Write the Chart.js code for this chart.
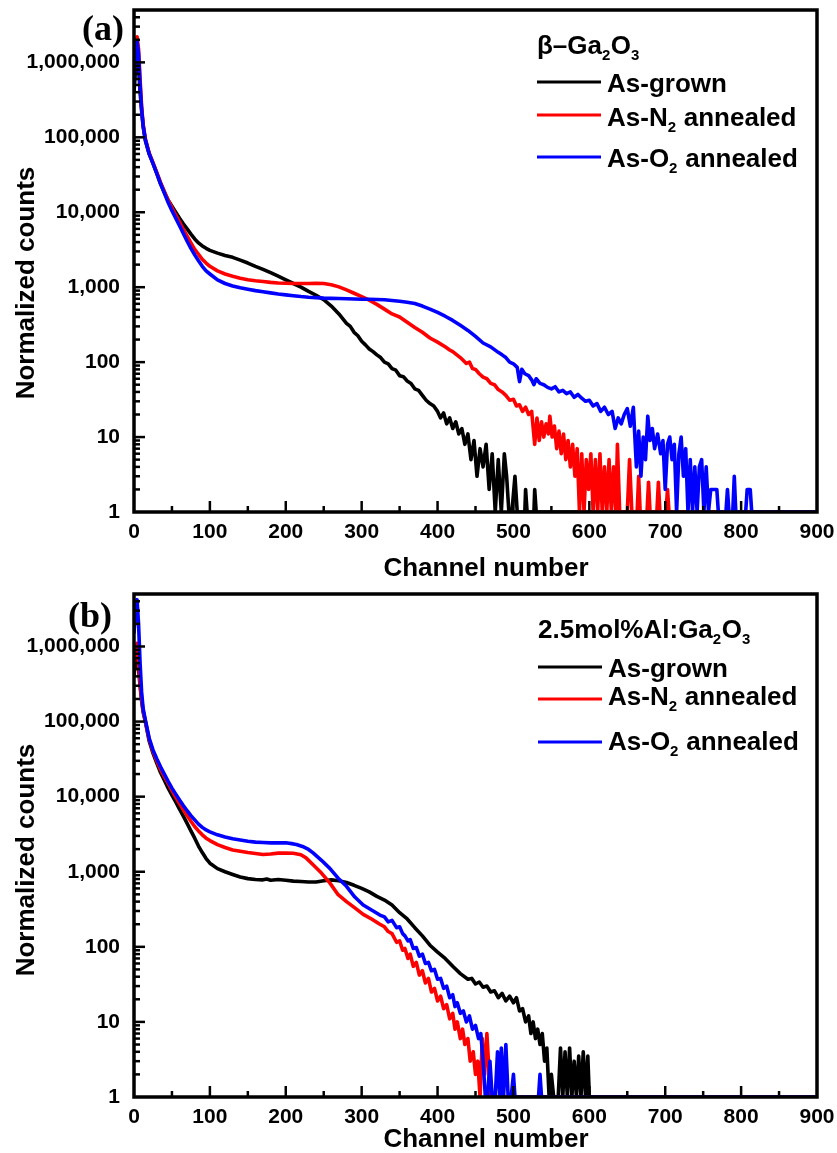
<!DOCTYPE html>
<html><head><meta charset="utf-8">
<script src="https://cdn.jsdelivr.net/npm/chart.js@4.4.1/dist/chart.umd.min.js"></script>
<style>
html,body{margin:0;padding:0;background:#fff;overflow:hidden;width:837px;height:1153px;position:relative;}
canvas{position:absolute;left:0;}
#ca{top:0;} #cb{top:584px;}
</style></head><body>
<canvas id="ca" width="837" height="590"></canvas>
<canvas id="cb" width="837" height="580"></canvas>
<script>
// ---------- data: [channel, normalized counts] ----------
const xTickValues = [0,100,200,300,400,500,600,700,800,900];
const xMinorValues = [50,150,250,350,450,550,650,750,850];
const yTickValues = [1,10,100,1000,10000,100000,1000000];
const seriesLabels = ['As-grown','As-N2 annealed','As-O2 annealed'];
const seriesColors = ['#000000','#ff0000','#0000ff'];

const aGrown = [[0,4e5],[2,8e5],[4,1.2e6],[6,9e5],[8,4e5],[10,2.3e5],[12,1.4e5],[15,9e4],[20,6e4],[25,4.5e4],[30,3.3e4],[35,2.4e4],[40,1.85e4],[45,1.45e4],[50,1.2e4],[55,1e4],[60,8300],[65,7000],[70,6000],[75,5100],[80,4400],[85,3900],[90,3550],[95,3300],[100,3100],[110,2850],[120,2650],[130,2500],[140,2300],[150,2100],[160,1900],[170,1730],[180,1560],[190,1400],[200,1250],[210,1120],[220,1000],[230,880],[240,780],[250,680],[260,560],[270,440],[280,330],[285,300],[290,250],[295,225],[300,190],[305,170],[310,150],[315,138],[320,125],[325,115],[330,100],[335,95],[340,82],[345,78],[350,66],[355,64],[360,56],[365,52],[370,44],[375,42],[380,36],[385,31],[390,28],[395,26],[400,22],[404,18],[408,21],[412,15],[416,18],[420,13],[424,16],[428,11],[432,13],[436,8],[440,11],[444,5],[448,9],[452,3],[456,7],[460,4],[464,8],[468,2],[472,6],[476,1],[480,5],[484,1],[488,6],[491,3],[494,1],[498,1],[502,3],[505,1],[515,1],[516,2],[518,1],[527,1],[528,2],[530,1],[900,1]];
const aN2 = [[0,6e5],[2,1.5e6],[4,2.2e6],[6,1.5e6],[8,6e5],[10,2.6e5],[12,1.5e5],[15,9.5e4],[20,6.2e4],[25,4.6e4],[30,3.4e4],[35,2.5e4],[40,1.9e4],[45,1.45e4],[50,1.15e4],[55,9200],[60,7400],[65,5900],[70,4800],[75,3900],[80,3200],[85,2750],[90,2350],[95,2100],[100,1900],[110,1650],[120,1500],[130,1400],[140,1320],[150,1260],[160,1220],[170,1190],[180,1160],[190,1140],[200,1130],[210,1120],[220,1120],[230,1120],[240,1130],[250,1120],[260,1080],[270,1010],[280,920],[290,830],[300,750],[310,670],[320,590],[330,510],[340,440],[350,400],[360,340],[370,290],[380,250],[390,210],[400,185],[410,160],[416,145],[420,138],[430,115],[438,96],[442,100],[446,82],[450,80],[455,70],[460,63],[465,60],[470,52],[475,50],[480,43],[485,40],[490,36],[495,31],[500,32],[504,26],[508,27],[512,22],[516,25],[520,20],[524,22],[528,8],[531,18],[534,9],[537,16],[540,10],[543,15],[546,11],[548,19],[551,10],[554,14],[557,7],[560,12],[563,6],[566,11],[569,5],[572,9],[575,4],[578,8],[581,3],[584,7],[587,1],[590,6],[593,1],[596,5],[599,2],[602,6],[605,1],[608,5],[611,1],[614,6],[617,1],[620,4],[623,1],[626,5],[629,1],[632,4],[635,1],[637,8],[640,1],[650,1],[653,5],[656,1],[663,1],[665,3],[667,1],[676,1],[678,2.5],[680,1],[689,1],[691,2.5],[693,1],[701,1],[703,2],[705,1],[900,1]];
const aO2 = [[0,5e5],[2,1.2e6],[4,1.9e6],[6,1.3e6],[8,5e5],[10,2.4e5],[12,1.45e5],[15,9.3e4],[20,6e4],[25,4.5e4],[30,3.3e4],[35,2.4e4],[40,1.8e4],[45,1.35e4],[50,1.05e4],[55,8300],[60,6600],[65,5200],[70,4100],[75,3300],[80,2700],[85,2250],[90,1900],[95,1650],[100,1500],[110,1250],[120,1120],[130,1040],[140,980],[150,940],[160,900],[170,870],[180,840],[190,810],[200,790],[210,770],[220,750],[230,735],[240,725],[250,715],[260,710],[270,705],[280,700],[290,695],[300,690],[310,690],[320,685],[330,680],[340,665],[350,650],[360,630],[370,605],[380,560],[390,510],[400,460],[410,410],[420,360],[430,310],[440,265],[450,220],[460,180],[470,160],[480,135],[485,125],[490,115],[495,100],[500,95],[505,85],[508,55],[511,80],[515,70],[520,66],[524,58],[527,50],[530,60],[535,52],[540,50],[545,46],[550,44],[555,47],[560,40],[565,42],[570,38],[575,40],[580,34],[585,37],[590,33],[595,30],[600,31],[605,26],[610,28],[615,22],[620,25],[625,20],[630,22],[634,13],[638,18],[642,15],[646,20],[650,24],[654,14],[658,25],[662,4],[665,12],[668,3],[671,10],[674,5],[677,19],[680,9],[683,13],[686,7],[690,11],[694,6],[697,9],[700,2],[703,8],[706,10],[709,5],[712,8],[715,1],[718,6],[721,10],[724,3],[727,7],[730,1],[733,5],[736,1],[739,4],[742,1],[745,4],[748,5],[751,1],[754,4],[757,1],[760,2],[764,2],[768,2],[770,1],[780,1],[782,2],[784,1],[789,1],[791,3],[793,1],[806,1],[808,2],[812,2],[814,1],[900,1]];

const bGrown = [[0,4e5],[2,7e5],[4,8e5],[6,5e5],[8,3e5],[10,1.9e5],[12,1.35e5],[15,1e5],[20,5.5e4],[25,3.8e4],[30,2.8e4],[35,2.1e4],[40,1.65e4],[45,1.3e4],[50,1.05e4],[55,8500],[60,6800],[65,5500],[70,4400],[75,3500],[80,2800],[85,2200],[90,1800],[95,1500],[100,1300],[110,1100],[120,1000],[130,920],[140,850],[150,810],[160,790],[170,780],[175,800],[180,770],[190,790],[200,770],[210,750],[220,740],[230,730],[240,730],[250,760],[260,780],[270,760],[280,720],[290,660],[300,600],[310,540],[320,470],[330,420],[340,360],[350,285],[360,235],[370,180],[380,140],[390,105],[400,85],[410,70],[420,55],[430,44],[440,37],[445,38],[450,32],[455,34],[460,29],[465,30],[470,25],[475,26],[480,21],[485,24],[490,19],[495,22],[500,18],[504,21],[508,14],[512,15],[516,10],[520,12],[523,7],[526,10],[529,6],[532,8],[535,5],[538,7],[541,3],[544,4.5],[547,1],[550,2],[553,1],[559,1],[562,4.5],[565,1],[568,4],[571,1],[574,4.5],[577,1],[580,3],[583,1],[586,3.5],[589,1],[592,4],[595,1],[598,3.5],[600,1],[900,1]];
const bN2 = [[0,6e5],[2,9e5],[4,1.1e6],[6,6e5],[8,3.2e5],[10,2e5],[12,1.4e5],[15,1e5],[20,5.8e4],[25,4e4],[30,3e4],[35,2.3e4],[40,1.85e4],[45,1.5e4],[50,1.2e4],[55,9800],[60,8100],[65,6700],[70,5600],[75,4700],[80,4000],[85,3500],[90,3100],[95,2800],[100,2600],[110,2300],[120,2100],[130,1950],[140,1870],[150,1800],[160,1750],[170,1700],[180,1720],[190,1770],[200,1780],[210,1760],[220,1680],[227,1520],[236,1240],[247,960],[258,710],[269,495],[280,400],[291,330],[302,270],[313,235],[324,200],[330,185],[335,160],[340,150],[346,115],[350,120],[354,90],[357,95],[361,70],[364,80],[368,55],[372,62],[376,42],[380,48],[384,33],[388,38],[392,25],[396,28],[400,19],[404,22],[408,15],[412,17],[416,11],[420,13],[423,8],[426,10],[430,6],[433,8],[436,5],[440,6],[443,3],[447,4],[450,2],[453,3],[456,1],[459,6],[462,2],[465,7],[468,2],[470,1],[900,1]];
const bO2 = [[0,1.5e6],[2,3e6],[4,4.2e6],[6,2e6],[8,6e5],[10,2.5e5],[12,1.5e5],[15,1.05e5],[20,6e4],[25,4.2e4],[30,3.2e4],[35,2.5e4],[40,2e4],[45,1.6e4],[50,1.3e4],[55,1.08e4],[60,9000],[65,7600],[70,6500],[75,5600],[80,4900],[85,4300],[90,3900],[95,3600],[100,3400],[110,3100],[120,2900],[130,2750],[140,2650],[150,2550],[160,2480],[170,2450],[180,2420],[190,2420],[200,2430],[210,2350],[214,2300],[222,2170],[230,1980],[236,1780],[247,1420],[258,1110],[269,820],[280,640],[291,460],[302,360],[313,310],[324,265],[330,250],[335,215],[340,225],[346,180],[350,185],[354,150],[357,140],[361,120],[364,125],[368,95],[372,98],[376,75],[380,80],[384,60],[388,62],[392,48],[396,50],[400,37],[404,38],[408,28],[412,30],[416,21],[420,23],[423,16],[426,18],[430,13],[434,14],[438,10],[442,12],[446,8],[450,9],[454,6],[457,7],[460,3],[463,1],[466,1],[469,3],[472,1],[476,1],[479,4],[482,1],[484,4.5],[487,1],[490,5],[493,1],[497,1],[500,2],[502,1],[533,1],[535,2],[537,1],[900,1]];

// legend / label text (with subscripts)
const legendTitleA = [{t:'β–Ga'},{t:'2',sub:true},{t:'O'},{t:'3',sub:true}];
const legendTitleB = [{t:'2.5mol%Al:Ga'},{t:'2',sub:true},{t:'O'},{t:'3',sub:true}];
const legendEntries = [[{t:'As-grown'}],[{t:'As-N'},{t:'2',sub:true},{t:' annealed'}],[{t:'As-O'},{t:'2',sub:true},{t:' annealed'}]];
const yTitle = 'Normalized counts';
const xTitle = 'Channel number';

// ---------- drawing ----------
const SANS = '"Liberation Sans", Arial, sans-serif';
function drawRich(ctx, x, y, segs, size) {
  ctx.textAlign = 'left'; ctx.textBaseline = 'alphabetic';
  for (const s of segs) {
    const fs = s.sub ? 15 : size;
    ctx.font = 'bold ' + fs + 'px ' + SANS;
    ctx.fillText(s.t, x, y + (s.sub ? 6 : 0));
    x += ctx.measureText(s.t).width + (s.sub ? 0.5 : 0);
  }
}
function seg(ctx, x1, y1, x2, y2) { ctx.beginPath(); ctx.moveTo(x1, y1); ctx.lineTo(x2, y2); ctx.stroke(); }

const decoPlugin = {
  id: 'deco',
  afterDatasetsDraw(chart, args, o) {
    const ctx = chart.ctx, a = chart.chartArea, xs = chart.scales.x, ys = chart.scales.y;
    ctx.save();
    ctx.strokeStyle = '#000'; ctx.fillStyle = '#000';
    ctx.lineWidth = 2.5;
    xMinorValues.forEach(v => { const p = xs.getPixelForValue(v); seg(ctx, p, a.bottom, p, a.bottom - 6); });
    xTickValues.forEach(v => { if (v > xs.min && v < xs.max) { const p = xs.getPixelForValue(v); seg(ctx, p, a.bottom, p, a.bottom - 11); } });
    for (let d = 1; d < ys.max; d *= 10) {
      for (let k = 2; k <= 9; k++) {
        const v = k * d; if (v >= ys.max) break;
        const p = ys.getPixelForValue(v); seg(ctx, a.left, p, a.left + 6, p);
      }
    }
    yTickValues.forEach(v => { if (v > ys.min) { const p = ys.getPixelForValue(v); seg(ctx, a.left, p, a.left + 11, p); } });
    ctx.lineWidth = 3.5;
    ctx.strokeRect(a.left, a.top, a.right - a.left, a.bottom - a.top);

    // panel label
    ctx.font = 'bold 36px "Liberation Serif", "Times New Roman", serif';
    ctx.textAlign = 'right'; ctx.textBaseline = 'alphabetic';
    ctx.fillText(o.panel, o.panelX, o.panelY);
    // axis titles
    ctx.font = 'bold 26px ' + SANS;
    ctx.textAlign = 'center'; ctx.textBaseline = 'middle';
    ctx.fillText(xTitle, o.xTitleX, o.xTitleY);
    ctx.save();
    ctx.translate(o.yTitleX, o.yTitleY); ctx.rotate(-Math.PI / 2);
    ctx.fillText(yTitle, 0, 0);
    ctx.restore();
    // legend
    drawRich(ctx, o.legX, o.legTitleY, o.legTitle, 26);
    legendEntries.forEach((e, i) => {
      ctx.strokeStyle = seriesColors[i]; ctx.lineWidth = 3;
      seg(ctx, o.legX, o.legLineY[i], o.legX + 64, o.legLineY[i]);
      ctx.fillStyle = '#000';
      drawRich(ctx, o.legX + 70, o.legTextY[i], e, 26);
    });
    ctx.restore();
  }
};

function makeChart(id, series, deco, axisH, top) {
  const datasets = series.map((s, i) => ({
    label: seriesLabels[i],
    data: s.map(p => ({x: p[0], y: p[1]})),
    borderColor: seriesColors[i],
    backgroundColor: seriesColors[i],
    borderWidth: 3.6,
    borderJoinStyle: 'round',
    pointRadius: 0,
    tension: 0,
    fill: false,
    order: 2 - i
  }));
  return new Chart(document.getElementById(id), {
    type: 'line',
    data: {datasets},
    plugins: [decoPlugin],
    options: {
      responsive: false,
      animation: false,
      events: [],
      layout: {padding: {top: top, right: 20, left: 0, bottom: 0}},
      plugins: {legend: {display: false}, tooltip: {enabled: false}, deco: deco},
      scales: {
        x: {
          type: 'linear', min: 0, max: 900,
          afterBuildTicks: s => { s.ticks = xTickValues.map(v => ({value: v})); },
          ticks: {color: '#000', font: {family: SANS, size: 21, weight: 'bold'}, padding: 8, maxRotation: 0, autoSkip: false},
          grid: {display: false, drawTicks: false},
          border: {display: false},
          afterFit: s => { s.height = axisH; s.paddingLeft = 0; s.paddingRight = 0; }
        },
        y: {
          type: 'logarithmic', min: 1, max: 5e6,
          afterBuildTicks: s => { s.ticks = yTickValues.map(v => ({value: v})); },
          ticks: {color: '#000', font: {family: SANS, size: 21, weight: 'bold'}, padding: 14, autoSkip: false,
                  callback: v => Number(v).toLocaleString('en-US')},
          grid: {display: false, drawTicks: false},
          border: {display: false},
          afterFit: s => { s.width = 134; s.paddingTop = 0; s.paddingBottom = 0; }
        }
      }
    }
  });
}

makeChart('ca', [aGrown, aN2, aO2], {
  panel: '(a)', panelX: 124, panelY: 40,
  xTitleX: 486, xTitleY: 569, yTitleX: 27, yTitleY: 283,
  legX: 537, legTitle: legendTitleA, legTitleY: 54,
  legLineY: [82, 115, 157], legTextY: [92, 126, 167]
}, 78, 10);
makeChart('cb', [bGrown, bN2, bO2], {
  panel: '(b)', panelX: 112, panelY: 43,
  xTitleX: 486, xTitleY: 556, yTitleX: 27, yTitleY: 276,
  legX: 538, legTitle: legendTitleB, legTitleY: 54,
  legLineY: [83, 115, 158], legTextY: [93, 121, 166]
}, 67, 10);
</script>
</body></html>
